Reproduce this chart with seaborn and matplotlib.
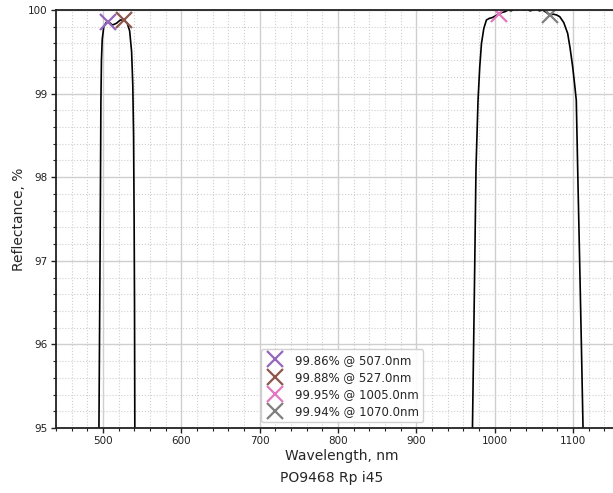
import matplotlib
matplotlib.use("Agg")
import matplotlib.pyplot as plt
from matplotlib.ticker import MultipleLocator
import seaborn as sns

wavelength = [
    480, 492, 494.8, 495.5, 496.2, 496.8, 497.3, 498, 499, 501, 504, 507, 512, 517,
    522, 527, 531, 534, 536.5, 538, 539, 539.7, 540.2, 540.6, 542, 560,
    950, 969.5, 971.5, 973, 974.4, 976, 978.6, 980.8, 983, 986, 989.3, 993, 997,
    1001, 1005, 1009, 1013, 1017, 1021, 1025, 1029, 1033, 1037, 1041, 1045, 1049,
    1053, 1057, 1061, 1066, 1070, 1075, 1079, 1082.9, 1088, 1093, 1096, 1099.4,
    1102, 1104, 1106, 1108.4, 1110.5, 1112.6, 1115, 1140,
]
reflectance = [
    80, 93, 95, 96, 97, 98, 98.9, 99.4, 99.65, 99.8, 99.85, 99.86, 99.82, 99.84,
    99.88, 99.88, 99.84, 99.75, 99.5, 99.1, 98.5, 97.5, 96.5, 95, 93, 80,
    80, 93, 95, 96, 96.95, 98.1, 98.92, 99.32, 99.6, 99.78, 99.88, 99.9, 99.91,
    99.93, 99.95, 99.97, 99.98, 100.0, 99.99, 100.01, 100.0, 100.02, 100.0, 100.01,
    99.99, 100.0, 100.01, 99.99, 100.0, 99.97, 99.94, 99.95, 99.94, 99.92, 99.85,
    99.72, 99.55, 99.32, 99.1, 98.92, 98.0, 96.95, 96.0, 95, 93, 80,
]

# labelled points
peak_wl = [507.0, 527.0, 1005.0, 1070.0]
peak_r = [99.86, 99.88, 99.95, 99.94]
peak_colors = ["tab:purple", "tab:brown", "tab:pink", "tab:gray"]

sns.set_style("white")
plt.rcParams["font.family"] = ["DejaVu Sans"]

fig = plt.figure(figsize=(6.13, 4.93), dpi=100)
ax = fig.add_axes([56 / 613, 65 / 493, 572 / 613, 418 / 493])

sns.lineplot(x=wavelength, y=reflectance, color="black", lw=1.2, ax=ax,
             sort=False, estimator=None)

for w, r, c in zip(peak_wl, peak_r, peak_colors):
    ax.plot(w, r, "x", color=c, ms=11, mew=1.6, label=f"{r:.2f}% @ {w:.1f}nm")

ax.set_xlim(440, 1170)
ax.set_ylim(95, 100)
ax.xaxis.set_major_locator(MultipleLocator(100))
ax.xaxis.set_minor_locator(MultipleLocator(20))
ax.yaxis.set_major_locator(MultipleLocator(1))
ax.yaxis.set_minor_locator(MultipleLocator(0.2))
ax.grid(which="major", color="#cfcfcf", lw=1.0, ls="-")
ax.grid(which="minor", color="#cfcfcf", lw=0.8, ls=":")
ax.tick_params(which="major", direction="out", length=3.5, width=1, labelsize=7.5,
               pad=2.5, bottom=True, left=True, colors="#222222")
ax.tick_params(which="minor", direction="out", length=2, width=0.8,
               bottom=True, left=True, colors="#222222")
for s in ax.spines.values():
    s.set_color("#222222")
    s.set_linewidth(1.3)

ax.set_xlabel("Wavelength, nm", fontsize=10, labelpad=2)
ax.set_ylabel("Reflectance, %", fontsize=10)
ax.yaxis.set_label_coords(-0.052, 0.5)

ax.legend(loc="lower center", bbox_to_anchor=(0.5, 0.0), fontsize=8.5,
          handletextpad=0.9, borderpad=0.35, labelspacing=0.35, framealpha=0.9,
          handlelength=1.6)

fig.text(332 / 613, 1 - 478 / 493, "PO9468 Rp i45", ha="center", va="center",
         fontsize=10)

fig.savefig("out.png", dpi=100)
